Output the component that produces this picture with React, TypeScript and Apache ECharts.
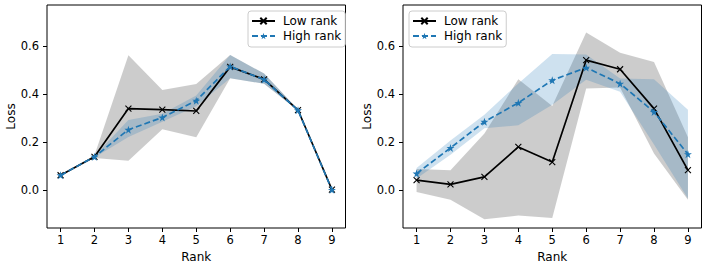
import React, { useEffect, useRef } from "react";
import * as echarts from "echarts";

const ranks = [1, 2, 3, 4, 5, 6, 7, 8, 9];
const xTicks = [1, 2, 3, 4, 5, 6, 7, 8, 9];
const yTicks = [0, 0.2, 0.4, 0.6];

// Left panel
const leftLow = [0.062, 0.139, 0.34, 0.336, 0.33, 0.514, 0.462, 0.334, 0.002];
const leftHigh = [0.062, 0.139, 0.252, 0.303, 0.373, 0.516, 0.461, 0.333, 0.001];
const leftLowUpper = [0.062, 0.145, 0.562, 0.418, 0.443, 0.563, 0.486, 0.336, 0.003];
const leftLowLower = [0.062, 0.134, 0.122, 0.254, 0.22, 0.466, 0.444, 0.332, 0.001];
const leftHighUpper = [0.062, 0.142, 0.292, 0.318, 0.395, 0.563, 0.486, 0.336, 0.003];
const leftHighLower = [0.062, 0.136, 0.222, 0.285, 0.35, 0.466, 0.444, 0.332, 0.001];

// Right panel
const rightLow = [0.042, 0.024, 0.055, 0.18, 0.117, 0.542, 0.504, 0.34, 0.083];
const rightHigh = [0.069, 0.176, 0.285, 0.364, 0.458, 0.511, 0.444, 0.326, 0.15];
const rightLowUpper = [0.088, 0.083, 0.236, 0.462, 0.351, 0.657, 0.573, 0.534, 0.22];
const rightLowLower = [-0.008, -0.04, -0.122, -0.106, -0.116, 0.424, 0.428, 0.153, -0.04];
const rightHighUpper = [0.092, 0.207, 0.314, 0.445, 0.568, 0.566, 0.465, 0.462, 0.335];
const rightHighLower = [0.048, 0.148, 0.258, 0.27, 0.356, 0.46, 0.41, 0.19, -0.035];

const BLUE = "#1f77b4";
const GRAY_FILL = "rgba(128,128,128,0.4)";
const BLUE_FILL = "rgba(31,119,180,0.22)";
const FONT = "DejaVu Sans";

const X_SYMBOL = "path://M0,0L10,10M10,0L0,10";
const STAR_SYMBOL =
  "path://M50,0L61.2,34.5L97.6,34.5L68.2,55.9L79.4,90.5L50,69.1L20.6,90.5L31.8,55.9L2.4,34.5L38.8,34.5Z";

function band(idx: number, lower: number[], upper: number[], color: string) {
  return {
    type: "custom",
    xAxisIndex: idx,
    yAxisIndex: idx,
    silent: true,
    z: 1,
    data: ranks.map((r, i) => [r, lower[i], upper[i]]),
    encode: { x: 0, y: [1, 2] },
    renderItem: (params: any, api: any) => {
      if (params.dataIndex !== 0) return null;
      const top = ranks.map((r, i) => api.coord([r, upper[i]]));
      const bot = ranks.map((r, i) => api.coord([r, lower[i]])).reverse();
      return {
        type: "polygon",
        shape: { points: top.concat(bot) },
        style: { fill: color, stroke: null },
      };
    },
  };
}

function lowLine(idx: number, vals: number[]) {
  return {
    type: "line",
    name: "Low rank",
    xAxisIndex: idx,
    yAxisIndex: idx,
    z: 3,
    data: ranks.map((r, i) => [r, vals[i]]),
    symbol: X_SYMBOL,
    symbolSize: 6,
    showAllSymbol: true,
    lineStyle: { color: "#000", width: 1.7 },
    itemStyle: { color: "#000", borderColor: "#000", borderWidth: 1.1 },
  };
}

function highLine(idx: number, vals: number[]) {
  return {
    type: "line",
    name: "High rank",
    xAxisIndex: idx,
    yAxisIndex: idx,
    z: 4,
    data: ranks.map((r, i) => [r, vals[i]]),
    symbol: STAR_SYMBOL,
    symbolSize: 8,
    showAllSymbol: true,
    lineStyle: { color: BLUE, width: 1.7, type: [6, 3] },
    itemStyle: { color: BLUE, borderWidth: 0 },
  };
}

function xAxis(idx: number) {
  return {
    type: "value",
    gridIndex: idx,
    min: 0.6,
    max: 9.4,
    name: "Rank",
    nameLocation: "middle",
    nameGap: 20,
    nameTextStyle: { fontSize: 12, color: "#000", fontFamily: FONT },
    axisLine: { show: false, onZero: false },
    splitLine: { show: false },
    axisTick: { show: true, inside: false, length: 4, lineStyle: { color: "#000", width: 1 }, customValues: xTicks },
    axisLabel: {
      show: true,
      margin: 6,
      fontSize: 11.5,
      color: "#000",
      fontFamily: FONT,
      customValues: xTicks,
      formatter: (v: number) => String(v),
    },
  };
}

function yAxis(idx: number) {
  return {
    type: "value",
    gridIndex: idx,
    min: -0.158,
    max: 0.772,
    name: "Loss",
    nameLocation: "middle",
    nameGap: 28,
    nameTextStyle: { fontSize: 12, color: "#000", fontFamily: FONT },
    axisLine: { show: false, onZero: false },
    splitLine: { show: false },
    axisTick: { show: true, inside: false, length: 4, lineStyle: { color: "#000", width: 1 }, customValues: yTicks },
    axisLabel: {
      show: true,
      margin: 8,
      fontSize: 11.5,
      color: "#000",
      fontFamily: FONT,
      customValues: yTicks,
      formatter: (v: number) => v.toFixed(1),
    },
  };
}

function legend(left: number) {
  return {
    data: ["Low rank", "High rank"],
    orient: "vertical",
    left,
    top: 11,
    itemWidth: 23,
    itemHeight: 8,
    itemGap: 1,
    padding: [3, 4, 4, 3],
    backgroundColor: "rgba(255,255,255,0.8)",
    borderColor: "#cccccc",
    borderWidth: 1,
    borderRadius: 3,
    selectedMode: false,
    textStyle: { fontSize: 12, color: "#000", fontFamily: FONT, lineHeight: 14, padding: [0, 0, 0, 3] },
  };
}

export default function App() {
  const ref = useRef<HTMLDivElement>(null);
  useEffect(() => {
    if (!ref.current) return;
    const chart = echarts.init(ref.current, null, { renderer: "svg" });
    chart.setOption({
      animation: false,
      backgroundColor: "#fff",
      textStyle: { fontFamily: FONT },
      grid: [
        { left: 47, top: 5, width: 298.5, height: 223, show: true, borderColor: "#000", borderWidth: 1, backgroundColor: "transparent" },
        { left: 403, top: 5, width: 298.5, height: 223, show: true, borderColor: "#000", borderWidth: 1, backgroundColor: "transparent" },
      ],
      xAxis: [xAxis(0), xAxis(1)],
      yAxis: [yAxis(0), yAxis(1)],
      legend: [legend(248), legend(409)],
      series: [
        band(0, leftLowLower, leftLowUpper, GRAY_FILL),
        band(0, leftHighLower, leftHighUpper, BLUE_FILL),
        lowLine(0, leftLow),
        highLine(0, leftHigh),
        band(1, rightLowLower, rightLowUpper, GRAY_FILL),
        band(1, rightHighLower, rightHighUpper, BLUE_FILL),
        lowLine(1, rightLow),
        highLine(1, rightHigh),
      ],
    });
    return () => chart.dispose();
  }, []);
  return (
    <div
      ref={ref}
      style={{ position: "absolute", left: 0, top: 0, width: 708, height: 268 }}
    />
  );
}
